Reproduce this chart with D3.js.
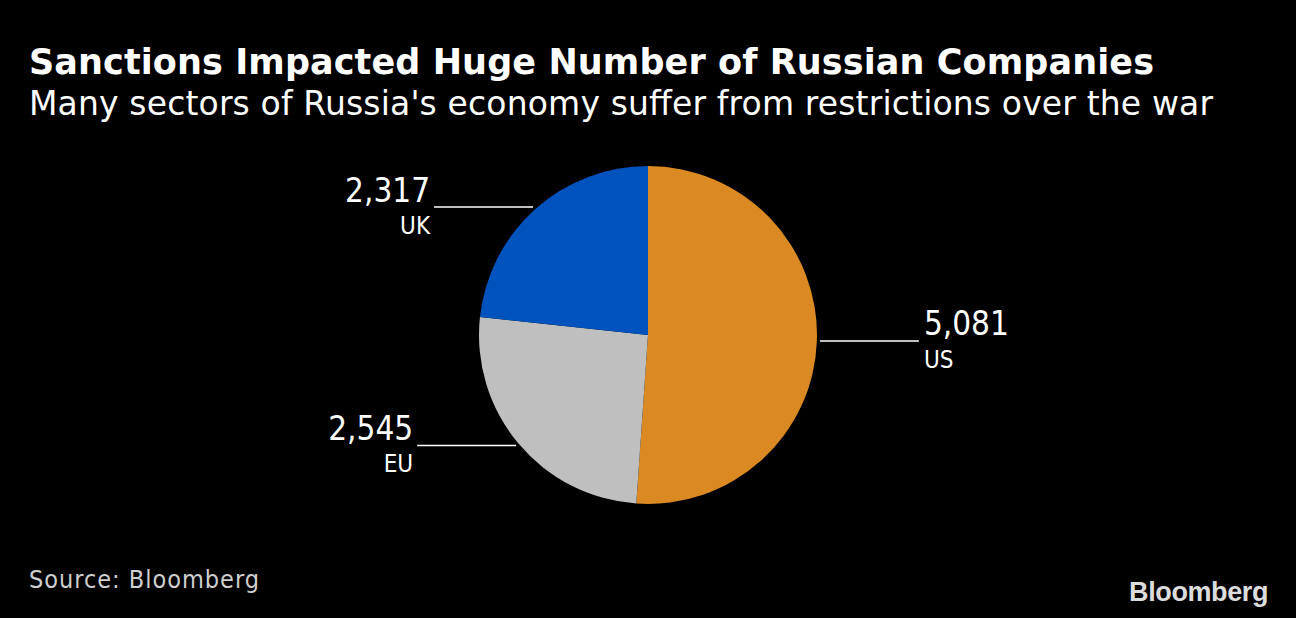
<!DOCTYPE html>
<html><head><meta charset="utf-8">
<script src="https://cdn.jsdelivr.net/npm/d3@7"></script>
<style>
html,body{margin:0;padding:0;background:#000;}
svg{display:block;}
</style></head>
<body>
<svg id="chart" width="1296" height="618"></svg>
<script>
const categories = ["US", "EU", "UK"];
const values = [5081, 2545, 2317];
const colors = ["#db8923", "#bfbfbf", "#0052bd"];

const W = 1296, H = 618;
const svg = d3.select("#chart");
svg.append("rect").attr("width", W).attr("height", H).attr("fill", "#000");

svg.append("text").attr("x", 29).attr("y", 74)
  .attr("font-family", "DejaVu Sans").attr("font-weight", "bold")
  .attr("font-size", 35).attr("fill", "#fff")
  .attr("textLength", 1125).attr("lengthAdjust", "spacing")
  .text("Sanctions Impacted Huge Number of Russian Companies");
svg.append("text").attr("x", 29).attr("y", 115)
  .attr("font-family", "DejaVu Sans")
  .attr("font-size", 33).attr("fill", "#fff")
  .attr("textLength", 1184).attr("lengthAdjust", "spacing")
  .text("Many sectors of Russia's economy suffer from restrictions over the war");

const cx = 648, cy = 335, r = 169;
const data = categories.map((c, i) => ({cat: c, value: values[i], color: colors[i]}));
const pie = d3.pie().value(d => d.value).sort(null);
const arcs = pie(data);
const arc = d3.arc().innerRadius(0).outerRadius(r);
const labelArc = d3.arc().innerRadius(r + 3).outerRadius(r + 3);

const g = svg.append("g").attr("transform", `translate(${cx},${cy})`);
g.selectAll("path").data(arcs).join("path")
  .attr("d", arc).attr("fill", d => d.data.color);

const fmt = d3.format(",");
const lineLen = 99;
const condensed = "DejaVu Sans Condensed, DejaVu Sans";
arcs.forEach(a => {
  const [px, py] = labelArc.centroid(a);
  const right = px > 0;
  const x2 = right ? px + lineLen : px - lineLen;
  g.append("line").attr("x1", px).attr("y1", py).attr("x2", x2).attr("y2", py)
    .attr("stroke", "#fff").attr("stroke-width", 1.5);
  const tx = right ? x2 + 5 : x2 - 4;
  const anchor = right ? "start" : "end";
  g.append("text").attr("x", tx).attr("y", py - 5.5)
    .attr("text-anchor", anchor)
    .attr("font-family", condensed).attr("font-stretch", "condensed")
    .attr("font-size", 33).attr("fill", "#fff")
    .text(fmt(a.data.value));
  g.append("text").attr("x", tx).attr("y", py + 27)
    .attr("text-anchor", anchor)
    .attr("font-family", condensed).attr("font-stretch", "condensed")
    .attr("font-size", 24).attr("fill", "#fff")
    .text(a.data.cat);
});

svg.append("text").attr("x", 29).attr("y", 588)
  .attr("font-family", condensed).attr("font-stretch", "condensed")
  .attr("font-size", 25).attr("fill", "#cfcfcf")
  .attr("textLength", 230).attr("lengthAdjust", "spacing")
  .text("Source: Bloomberg");
svg.append("text").attr("x", 1268).attr("y", 601)
  .attr("text-anchor", "end")
  .attr("font-family", "Liberation Sans, Arial").attr("font-weight", "bold")
  .attr("font-size", 27).attr("letter-spacing", -0.4).attr("fill", "#dcdcdc")
  .text("Bloomberg");
</script>
</body></html>
